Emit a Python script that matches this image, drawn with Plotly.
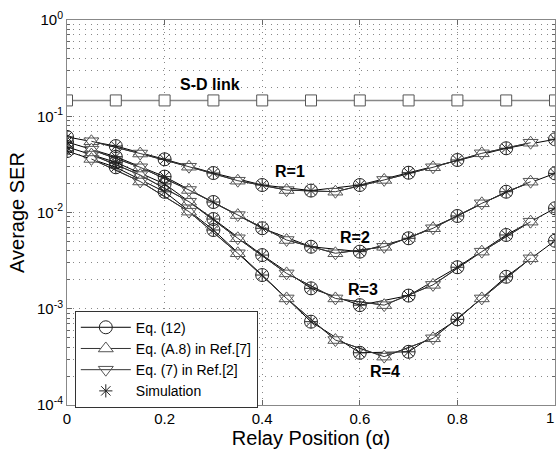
import plotly.graph_objects as go

alpha_c = [0.0, 0.1, 0.2, 0.3, 0.4, 0.5, 0.6, 0.7, 0.8, 0.9, 1.0]
alpha_t = [0.05, 0.15, 0.25, 0.35, 0.45, 0.55, 0.65, 0.75, 0.85, 0.95]

sd_link = [0.146] * 11

# Eq.(12) / simulation values at alpha_c
ser_c = {
    1: [0.061, 0.049, 0.0357, 0.0257, 0.0193, 0.0169, 0.0193, 0.0259, 0.0351, 0.0465, 0.0576],
    2: [0.054, 0.038, 0.0236, 0.01285, 0.00686, 0.00441, 0.00392, 0.0054, 0.0092, 0.01644, 0.0255],
    3: [0.048, 0.0332, 0.0198, 0.00855, 0.00361, 0.00163, 0.00109, 0.00137, 0.0027, 0.00584, 0.01106],
    4: [0.0435, 0.0295, 0.0164, 0.00658, 0.00224, 0.000734, 0.000349, 0.000357, 0.000777, 0.00215, 0.00509],
}
# Eq.(A.8) and Eq.(7) values at alpha_t
ser_t = {
    1: [0.055, 0.041, 0.0299, 0.0214, 0.0171, 0.01644, 0.0218, 0.0295, 0.0412, 0.0531],
    2: [0.045, 0.0295, 0.01714, 0.0094, 0.00518, 0.00377, 0.0044, 0.00686, 0.01246, 0.0209],
    3: [0.040, 0.0245, 0.01295, 0.0054, 0.00233, 0.00128, 0.00109, 0.00177, 0.00392, 0.00803],
    4: [0.036, 0.021, 0.0102, 0.00377, 0.00128, 0.000473, 0.000318, 0.000493, 0.00128, 0.00334],
}

labels = ["Eq. (12)", "Eq. (A.8) in Ref.[7]", "Eq. (7) in Ref.[2]", "Simulation"]
x_ticks = [0, 0.2, 0.4, 0.6, 0.8, 1]
x_ticktext = ["0", "0.2", "0.4", "0.6", "0.8", "1"]

fig = go.Figure()

fig.add_trace(go.Scatter(
    x=alpha_c, y=sd_link, mode="lines+markers", showlegend=False,
    line=dict(color="#888888", width=1.5),
    marker=dict(symbol="square", size=11, color="white", line=dict(color="#555555", width=1)),
))

for r in [1, 2, 3, 4]:
    first = (r == 1)
    fig.add_trace(go.Scatter(
        x=alpha_c, y=ser_c[r], mode="lines+markers", name=labels[0],
        legendgroup="c", showlegend=first, legendrank=1,
        line=dict(color="black", width=1),
        marker=dict(symbol="circle", size=13, color="rgba(255,255,255,0)",
                    line=dict(color="#222222", width=1)),
    ))
    fig.add_trace(go.Scatter(
        x=alpha_t, y=ser_t[r], mode="lines+markers", name=labels[1],
        legendgroup="u", showlegend=first, legendrank=2,
        line=dict(color="#333333", width=1),
        marker=dict(symbol="triangle-up", size=13, color="white",
                    line=dict(color="#555555", width=1)),
    ))
    fig.add_trace(go.Scatter(
        x=alpha_t, y=ser_t[r], mode="lines+markers", name=labels[2],
        legendgroup="d", showlegend=first, legendrank=3,
        line=dict(color="#333333", width=1),
        marker=dict(symbol="triangle-down", size=13, color="rgba(255,255,255,0)",
                    line=dict(color="#555555", width=1)),
    ))
    fig.add_trace(go.Scatter(
        x=alpha_c, y=ser_c[r], mode="markers", name=labels[3],
        legendgroup="s", showlegend=first, legendrank=4,
        marker=dict(symbol="asterisk-open", size=11, color="#222222",
                    line=dict(color="#222222", width=1)),
    ))

ann_font = dict(family="Liberation Sans, Arial, sans-serif", size=16, color="black")
for txt, ax, ay in [("<b>S-D link</b>", 0.293, -0.665), ("<b>R=1</b>", 0.457, -1.579),
                    ("<b>R=2</b>", 0.590, -2.255), ("<b>R=3</b>", 0.607, -2.805),
                    ("<b>R=4</b>", 0.652, -3.657)]:
    fig.add_annotation(x=ax, y=ay, text=txt, showarrow=False, font=ann_font)

# last x tick label, which sits at the figure edge
fig.add_annotation(x=x_ticks[-1], y=0, xref="x", yref="paper", yanchor="top", xanchor="right",
                   yshift=-2, xshift=1, text=x_ticktext[-1], showarrow=False,
                   font=dict(family="Liberation Sans, Arial, sans-serif", size=15, color="black"))

minor_vals = [k * 10 ** e for e in range(-4, 0) for k in range(2, 10)]
grid_dash = "1px,5px"

fig.update_layout(
    width=556, height=450,
    margin=dict(l=67, r=1, t=20, b=45),
    paper_bgcolor="white", plot_bgcolor="white",
    font=dict(family="Liberation Sans, Arial, sans-serif", size=15, color="black"),
    legend=dict(x=0.016, y=0.245, xanchor="left", yanchor="top",
                bgcolor="white", bordercolor="#333333", borderwidth=1,
                font=dict(size=14), tracegroupgap=0, itemwidth=50),
    xaxis=dict(
        range=[0, 1], tickvals=x_ticks, ticktext=x_ticktext,
        ticks="inside", ticklen=5, tickcolor="#666666", mirror="allticks",
        showline=True, linecolor="#888888", linewidth=1,
        showgrid=True, gridcolor="#888888", griddash=grid_dash, gridwidth=1,
        zeroline=False, automargin=False,
        title=dict(text="Relay Position (α)", font=dict(size=20), standoff=4),
    ),
    yaxis=dict(
        type="log", range=[-4, 0], automargin=False,
        tickvals=[1e-4, 1e-3, 1e-2, 1e-1, 1],
        ticktext=["10<sup>-4</sup>", "10<sup>-3</sup>", "10<sup>-2</sup>", "10<sup>-1</sup>", "10<sup>0</sup>"],
        ticks="inside", ticklen=5, tickcolor="#666666", mirror="allticks",
        showline=True, linecolor="#888888", linewidth=1,
        showgrid=True, gridcolor="#888888", griddash=grid_dash, gridwidth=1,
        minor=dict(tickmode="array", tickvals=minor_vals, ticks="inside", ticklen=3,
                   tickcolor="#666666", showgrid=True, gridcolor="#888888", griddash=grid_dash),
        title=dict(text="Average SER", font=dict(size=20), standoff=6),
    ),
)

fig.write_html("out.html", config={"displayModeBar": False},
               post_script="document.body.style.margin='0';document.body.style.overflow='hidden';")
